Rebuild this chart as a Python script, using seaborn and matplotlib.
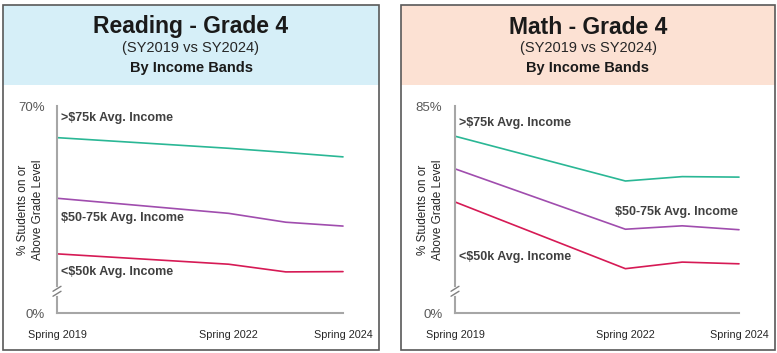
import matplotlib

matplotlib.use("Agg")
import matplotlib.pyplot as plt
import pandas as pd
import seaborn as sns
from matplotlib.patches import Rectangle

YEARS = [2019, 2022, 2023, 2024]
TICK_YEARS = [2019, 2022, 2024]
TICK_LABELS = ["Spring 2019", "Spring 2022", "Spring 2024"]
BANDS = [">$75k Avg. Income", "$50-75k Avg. Income", "<$50k Avg. Income"]

READING_HIGH = [59.3, 55.7, 54.3, 52.8]
READING_MID = [38.8, 33.7, 30.7, 29.4]
READING_LOW = [20.0, 16.5, 13.9, 14.0]

MATH_HIGH = [72.6, 54.2, 56.0, 55.8]
MATH_MID = [59.2, 34.4, 35.8, 34.2]
MATH_LOW = [45.6, 18.2, 20.9, 20.2]

PALETTE = {BANDS[0]: "#2AB795", BANDS[1]: "#A04DAE", BANDS[2]: "#D61A55"}
TEXT_DARK = "#404040"
AXIS_GRAY = "#A6A6A6"
W, H = 777, 353


def long_frame(high, mid, low):
    rows = []
    for band, vals in zip(BANDS, [high, mid, low]):
        for yr, v in zip(YEARS, vals):
            rows.append({"year": yr, "band": band, "value": v})
    return pd.DataFrame(rows)


def px_rect(x0, y0, x1, y1):
    # pixel box (top-left origin) -> figure fraction rect
    return (x0 / W, 1 - y1 / H, (x1 - x0) / W, (y1 - y0) / H)


def draw_panel(fig, box, header_color, title, ymax, df, label_pos, ylabel_x):
    x0, y0, x1, y1 = box
    hx, hy, hw, hh = px_rect(x0, y0, x1, y0 + 80)
    fig.patches.append(Rectangle((hx, hy), hw, hh, transform=fig.transFigure,
                                 facecolor=header_color, edgecolor="none", zorder=0))
    bx, by, bw, bh = px_rect(x0, y0, x1, y1)
    fig.patches.append(Rectangle((bx, by), bw, bh, transform=fig.transFigure,
                                 facecolor="none", edgecolor="#595959", linewidth=1.2, zorder=5))
    cx = (x0 + x1) / 2 / W
    fig.text(cx, 1 - 27 / H, title, ha="center", va="center", fontsize=16.5,
             fontweight="bold", color="#1a1a1a")
    fig.text(cx, 1 - 48 / H, "(SY2019 vs SY2024)", ha="center", va="center",
             fontsize=10.5, color="#262626")
    fig.text(cx, 1 - 68 / H, "By Income Bands", ha="center", va="center",
             fontsize=10.5, fontweight="bold", color="#1a1a1a")

    ax_left = x0 + 54
    ax_right = x1 - 36
    ax = fig.add_axes(px_rect(ax_left, 106, ax_right, 313))
    sns.lineplot(data=df, x="year", y="value", hue="band", palette=PALETTE,
                 hue_order=BANDS, linewidth=1.2, legend=False, ax=ax)
    for line in ax.lines:
        line.set_clip_on(False)
    ax.set_xlim(2019, 2024)
    ax.set_ylim(0, ymax)
    ax.set_yticks([0, ymax])
    ax.set_yticklabels(["0%", f"{ymax}%"], fontsize=9.5, color="#595959")
    ax.set_xticks(TICK_YEARS)
    ax.set_xticklabels(TICK_LABELS, fontsize=7.8, color="#262626")
    ax.tick_params(axis="y", length=4, color=AXIS_GRAY, width=1.2, pad=5)
    ax.tick_params(axis="x", length=0, pad=12)
    ax.set_xlabel("")
    ax.set_ylabel("% Students on or\nAbove Grade Level", fontsize=8.5,
                  color="#262626", linespacing=1.3)
    ax.yaxis.set_label_coords(ylabel_x, 0.5)
    for side in ["top", "right"]:
        ax.spines[side].set_visible(False)
    for side in ["left", "bottom"]:
        ax.spines[side].set_color(AXIS_GRAY)
        ax.spines[side].set_linewidth(1.5)

    # axis break marks
    yb = 0.105
    ax.plot([0, 0], [yb - 0.012, yb + 0.012], transform=ax.transAxes,
            color="white", linewidth=3, clip_on=False, zorder=6)
    for dy in (-0.012, 0.012):
        ax.plot([-0.014, 0.014], [yb + dy - 0.012, yb + dy + 0.012],
                transform=ax.transAxes, color="#808080", linewidth=1,
                clip_on=False, zorder=7)

    for band, (lx, ly) in zip(BANDS, label_pos):
        ax.text(lx, ly, band, transform=ax.transAxes, fontsize=9,
                fontweight="bold", color=TEXT_DARK, ha="left", va="center")
    return ax


def main():
    sns.set_theme(style="white")
    plt.rcParams["font.family"] = ["Liberation Sans", "DejaVu Sans"]

    fig = plt.figure(figsize=(7.77, 3.53), dpi=100)
    fig.patch.set_facecolor("white")

    reading = long_frame(READING_HIGH, READING_MID, READING_LOW)
    math = long_frame(MATH_HIGH, MATH_MID, MATH_LOW)

    draw_panel(fig, (3, 5, 379, 350), "#D6EFF8", "Reading - Grade 4", 70, reading,
               [(0.014, 0.94), (0.014, 0.46), (0.014, 0.2)], -0.045)
    draw_panel(fig, (401, 5, 775, 350), "#FCE1D3", "Math - Grade 4", 85, math,
               [(0.014, 0.92), (0.565, 0.488), (0.014, 0.272)], -0.04)

    fig.savefig("out.png", dpi=100, facecolor="white")
    plt.close(fig)


if __name__ == "__main__":
    main()
